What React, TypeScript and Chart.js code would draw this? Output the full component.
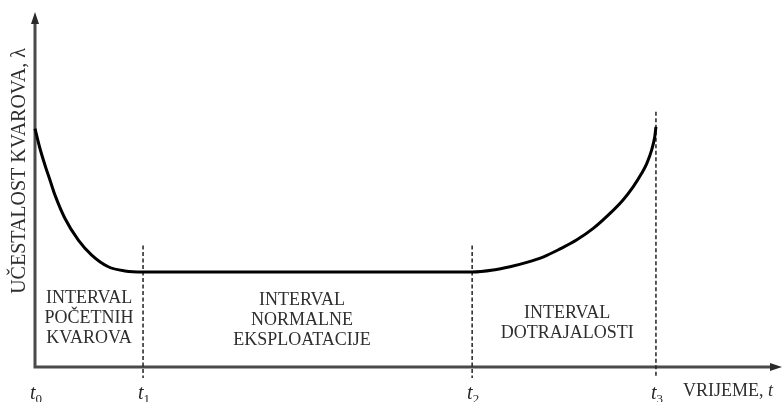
import React, { useEffect, useRef } from 'react';
import { Chart, registerables } from 'chart.js';

Chart.register(...registerables);

// ---- data ----
const timeValues = [
  0, 0.08, 0.161, 0.242, 0.322, 0.483, 0.698, 0.913, 1.18, 1.449, 1.74,
  7.04, 7.38, 7.65, 7.92, 8.19, 8.45, 8.72, 8.99, 9.26, 9.47, 9.63, 9.77, 9.85, 9.93, 9.98, 10,
];
const failureRate = [
  2.512, 2.302, 2.126, 1.968, 1.811, 1.565, 1.337, 1.179, 1.056, 1.011, 1.0,
  1.0, 1.021, 1.056, 1.102, 1.161, 1.242, 1.337, 1.46, 1.618, 1.76, 1.895, 2.04, 2.14, 2.285, 2.424, 2.53,
];

const tickTimes = [0, 1.74, 7.04, 10];
const tickSubscripts = ['0', '1', '2', '3'];
const markerTops: (number | null)[] = [null, 1.28, 1.28, 2.69];

const intervalLines = [
  ['INTERVAL', 'POČETNIH', 'KVAROVA'],
  ['INTERVAL', 'NORMALNE', 'EKSPLOATACIJE'],
  ['INTERVAL', 'DOTRAJALOSTI'],
];
const intervalCenters = [0.87, 4.3, 8.57];
const intervalTops = [0.726, 0.705, 0.568];

const xTitle = 'VRIJEME, ';
const xTitleVar = 't';
const yTitle = 'UČESTALOST KVAROVA, λ';

const X_MAX = 12.03;
const Y_MAX = 3.74;

const SERIF = '"Liberation Serif", "Times New Roman", serif';

const decorPlugin = {
  id: 'decor',
  beforeDatasetsDraw(chart: any) {
    const ctx = chart.ctx as CanvasRenderingContext2D;
    const xs = chart.scales.x;
    const ys = chart.scales.y;
    const x0 = xs.getPixelForValue(0);
    const y0 = ys.getPixelForValue(0);
    const xEnd = xs.getPixelForValue(X_MAX);
    const yTop = ys.getPixelForValue(Y_MAX);
    ctx.save();

    // axes
    ctx.strokeStyle = '#4a4a4a';
    ctx.fillStyle = '#2a2a2a';
    ctx.lineWidth = 3;
    ctx.beginPath();
    ctx.moveTo(x0, y0);
    ctx.lineTo(x0, yTop + 8);
    ctx.moveTo(x0 - 1.5, y0);
    ctx.lineTo(xEnd - 8, y0);
    ctx.stroke();
    // arrow heads
    ctx.beginPath();
    ctx.moveTo(x0, yTop);
    ctx.lineTo(x0 - 4, yTop + 12);
    ctx.lineTo(x0 + 4, yTop + 12);
    ctx.closePath();
    ctx.fill();
    ctx.beginPath();
    ctx.moveTo(xEnd, y0);
    ctx.lineTo(xEnd - 12, y0 - 4);
    ctx.lineTo(xEnd - 12, y0 + 4);
    ctx.closePath();
    ctx.fill();

    // dashed markers
    ctx.strokeStyle = '#222';
    ctx.lineWidth = 1.5;
    ctx.setLineDash([4, 2.5]);
    tickTimes.forEach((t, i) => {
      const top = markerTops[i];
      if (top == null) return;
      const px = xs.getPixelForValue(t);
      ctx.beginPath();
      ctx.moveTo(px, ys.getPixelForValue(top));
      ctx.lineTo(px, y0 + 11);
      ctx.stroke();
    });
    ctx.setLineDash([]);

    // tick labels t0..t3
    ctx.fillStyle = '#262626';
    ctx.textBaseline = 'alphabetic';
    tickTimes.forEach((t, i) => {
      const px = xs.getPixelForValue(t);
      ctx.font = `italic 20px ${SERIF}`;
      ctx.textAlign = 'right';
      ctx.fillText('t', px + 0.5, y0 + 32);
      ctx.font = `13px ${SERIF}`;
      ctx.textAlign = 'left';
      ctx.fillText(tickSubscripts[i], px + 0.5, y0 + 36);
    });

    // interval labels
    ctx.fillStyle = '#2e2e2e';
    ctx.font = `18px ${SERIF}`;
    ctx.textAlign = 'center';
    ctx.textBaseline = 'middle';
    intervalLines.forEach((lines, i) => {
      const cx = xs.getPixelForValue(intervalCenters[i]);
      const ty = ys.getPixelForValue(intervalTops[i]);
      lines.forEach((ln, j) => ctx.fillText(ln, cx, ty + j * 20));
    });

    // x title
    ctx.textBaseline = 'alphabetic';
    ctx.textAlign = 'left';
    ctx.font = `18px ${SERIF}`;
    const titleX = 683;
    ctx.fillText(xTitle, titleX, y0 + 29);
    const w = ctx.measureText(xTitle).width;
    ctx.font = `italic 18px ${SERIF}`;
    ctx.fillText(xTitleVar, titleX + w, y0 + 29);

    // y title
    ctx.translate(20, 171);
    ctx.rotate(-Math.PI / 2);
    ctx.font = `20px ${SERIF}`;
    ctx.textAlign = 'center';
    ctx.textBaseline = 'middle';
    ctx.fillText(yTitle, 0, 0);

    ctx.restore();
  },
};

export default function App() {
  const ref = useRef<HTMLCanvasElement | null>(null);
  useEffect(() => {
    if (!ref.current) return;
    const chart = new Chart(ref.current, {
      type: 'line',
      data: {
        datasets: [
          {
            label: 'λ(t)',
            data: timeValues.map((t, i) => ({ x: t, y: failureRate[i] })),
            borderColor: '#000',
            borderWidth: 3,
            pointRadius: 0,
            cubicInterpolationMode: 'monotone',
            fill: false,
            clip: false as any,
          },
        ],
      },
      options: {
        responsive: false,
        animation: false,
        layout: { padding: { left: 35, right: 1, top: 12, bottom: 35 } },
        plugins: { legend: { display: false }, tooltip: { enabled: false } },
        scales: {
          x: { type: 'linear', min: 0, max: X_MAX, display: false },
          y: { type: 'linear', min: 0, max: Y_MAX, display: false },
        },
      },
      plugins: [decorPlugin],
    });
    return () => chart.destroy();
  }, []);
  return (
    <div style={{ position: 'absolute', left: 0, top: 0, width: 783, height: 402, background: '#fff' }}>
      <canvas ref={ref} width={783} height={402} />
    </div>
  );
}
